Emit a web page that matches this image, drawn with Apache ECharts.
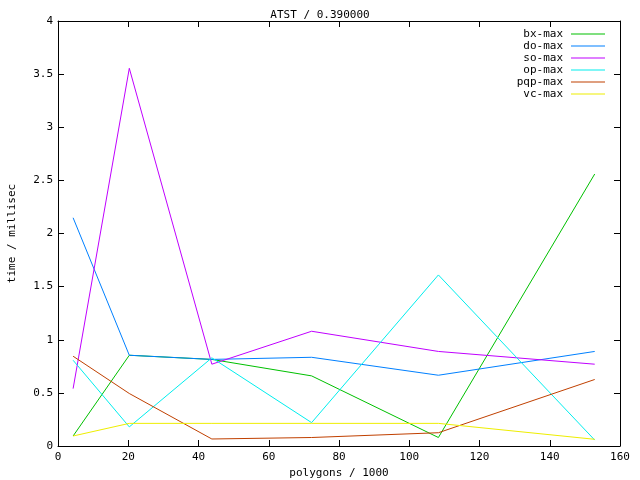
<!DOCTYPE html>
<html><head><meta charset="utf-8">
<script src="https://cdn.jsdelivr.net/npm/echarts@6/dist/echarts.min.js"></script>
<style>html,body{margin:0;padding:0;background:#fff}#c{width:640px;height:480px}</style>
</head><body><div id="c"></div>
<script>
const polygons = [4.3, 20.3, 43.8, 72.2, 108.3, 152.8];
const seriesNames = ['bx-max', 'do-max', 'so-max', 'op-max', 'pqp-max', 'vc-max'];
const bxMax  = [0.094, 0.854, 0.815, 0.66, 0.08, 2.56];
const doMax  = [2.148, 0.854, 0.815, 0.835, 0.666, 0.89];
const soMax  = [0.54, 3.555, 0.77, 1.08, 0.89, 0.77];
const opMax  = [0.807, 0.18, 0.83, 0.22, 1.61, 0.056];
const pqpMax = [0.845, 0.494, 0.066, 0.08, 0.125, 0.626];
const vcMax  = [0.094, 0.213, 0.213, 0.213, 0.213, 0.063];
const allValues = [bxMax, doMax, soMax, opMax, pqpMax, vcMax];
const colors = ['#00c000', '#0080ff', '#c000ff', '#00eeee', '#c04000', '#eeee00'];
const xTicks = [0, 20, 40, 60, 80, 100, 120, 140, 160];
const yTicks = [0, 0.5, 1, 1.5, 2, 2.5, 3, 3.5, 4];

const font = '"DejaVu Sans Mono", monospace';
const chart = echarts.init(document.getElementById('c'), null, {renderer: 'canvas'});
const axisCommon = {
  axisLine: {show: true, onZero: false, lineStyle: {color: '#000', width: 1}},
  axisTick: {show: true, inside: true, length: 6, lineStyle: {color: '#000'}},
  splitLine: {show: false},
  nameTextStyle: {fontFamily: font, fontSize: 11, color: '#000'}
};
chart.setOption({
  animation: false,
  backgroundColor: '#fff',
  title: {text: 'ATST / 0.390000', left: 'center', top: 5,
    textStyle: {fontFamily: font, fontSize: 11, fontWeight: 'normal', color: '#000'}},
  grid: {left: 58, right: 20, top: 21, bottom: 34, containLabel: false, outerBoundsMode: 'none'},
  legend: {
    orient: 'vertical', right: 30, top: 23, align: 'right',
    icon: 'rect', itemWidth: 34, itemHeight: 1.2, itemGap: 0,
    data: seriesNames,
    textStyle: {fontFamily: font, fontSize: 11, lineHeight: 12, color: '#000', padding: [0, 3, 0, 0]}
  },
  xAxis: [
    Object.assign({}, axisCommon, {type: 'value', min: xTicks[0], max: xTicks[xTicks.length-1], interval: 20,
      position: 'bottom', name: 'polygons / 1000', nameLocation: 'middle', nameGap: 20,
      axisLabel: {fontFamily: font, fontSize: 11, color: '#000', margin: 6}}),
    Object.assign({}, axisCommon, {type: 'value', min: xTicks[0], max: xTicks[xTicks.length-1], interval: 20,
      position: 'top', axisLabel: {show: false}})
  ],
  yAxis: [
    Object.assign({}, axisCommon, {type: 'value', min: yTicks[0], max: yTicks[yTicks.length-1], interval: 0.5,
      position: 'left', name: 'time / millisec', nameLocation: 'middle', nameGap: 40,
      axisLabel: {fontFamily: font, fontSize: 11, color: '#000', margin: 5}}),
    Object.assign({}, axisCommon, {type: 'value', min: yTicks[0], max: yTicks[yTicks.length-1], interval: 0.5,
      position: 'right', axisLabel: {show: false}})
  ],
  series: seriesNames.map((n, i) => ({
    name: n, type: 'line', symbol: 'none', color: colors[i],
    lineStyle: {width: 1, color: colors[i]},
    data: polygons.map((x, j) => [x, allValues[i][j]])
  }))
});
</script></body></html>
